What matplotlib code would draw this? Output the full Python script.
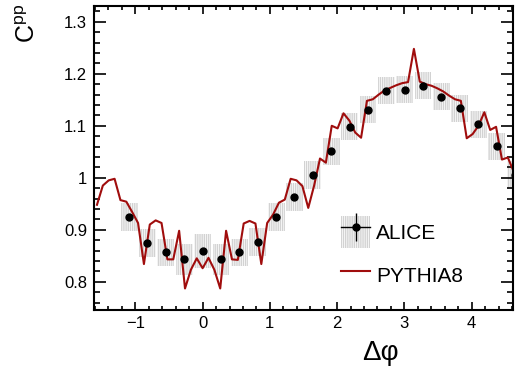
import numpy as np
import matplotlib
matplotlib.use("Agg")
import matplotlib.pyplot as plt
from matplotlib.patches import Rectangle
from matplotlib.lines import Line2D
from matplotlib.legend_handler import HandlerTuple
from matplotlib.ticker import MultipleLocator

plt.rcParams['font.family'] = ['Liberation Sans', 'DejaVu Sans']
plt.rcParams['mathtext.default'] = 'regular'
plt.rcParams['hatch.linewidth'] = 0.5

# ALICE data (bin index k, bin width 2*pi/23)
alice_k = list(range(-4, 18))
alice_y = [0.924, 0.874, 0.857, 0.843, 0.859, 0.843, 0.857, 0.876, 0.925, 0.963,
           1.005, 1.051, 1.098, 1.131, 1.167, 1.169, 1.177, 1.156, 1.134, 1.103,
           1.061, 1.006]
alice_sys = [0.027, 0.027, 0.026, 0.030, 0.032, 0.030, 0.026, 0.027, 0.027, 0.027,
             0.027, 0.026, 0.026, 0.026, 0.026, 0.026, 0.026, 0.026, 0.026, 0.026,
             0.026, 0.027]
alice_stat = [0.004] * len(alice_y)

# PYTHIA8 (bin index m, step pi/36)
pythia_m = list(range(-18, 55))
pythia_y = [0.948, 0.985, 0.995, 0.998, 0.957, 0.954, 0.934, 0.913, 0.834, 0.910,
            0.918, 0.913, 0.843, 0.843, 0.898, 0.787, 0.823, 0.845, 0.826, 0.846,
            0.823, 0.787, 0.898, 0.843, 0.842, 0.912, 0.917, 0.912, 0.834, 0.913,
            0.929, 0.952, 0.958, 0.998, 0.995, 0.984, 0.942, 0.985, 1.037, 1.029,
            1.100, 1.095, 1.124, 1.110, 1.087, 1.077, 1.148, 1.151, 1.160, 1.168,
            1.173, 1.178, 1.182, 1.184, 1.248, 1.185, 1.180, 1.177, 1.172, 1.166,
            1.158, 1.151, 1.148, 1.076, 1.084, 1.100, 1.126, 1.092, 1.098, 1.035,
            1.039, 1.012, 0.970]

alice_w = 2 * np.pi / 23
alice_x = np.array(alice_k) * alice_w
pythia_x = np.array(pythia_m) * np.pi / 36

fig = plt.figure(figsize=(5.16, 3.69), dpi=100)
ax = fig.add_axes([94/516, 1-310/369, (513-94)/516, (310-5.7)/369])

red = '#a00d0d'
box_kw = dict(facecolor='#f4f4f4', edgecolor='#c4c4c4', hatch='|' * 9, linewidth=0)
for x, y, s in zip(alice_x, alice_y, alice_sys):
    ax.add_patch(Rectangle((x - 0.125, y - s), 0.25, 2 * s, zorder=1, **box_kw))

ax.plot(pythia_x, pythia_y, color=red, lw=1.5, zorder=2)
ax.errorbar(alice_x, alice_y, yerr=alice_stat, fmt='o', color='black', ms=5,
            elinewidth=1, capsize=0, zorder=3)

ax.set_xlim(-1.615, 4.615)
ax.set_ylim(0.7456, 1.331)
ax.xaxis.set_minor_locator(MultipleLocator(0.2))
ax.yaxis.set_minor_locator(MultipleLocator(0.02))
ax.set_yticks([0.8, 0.9, 1.0, 1.1, 1.2, 1.3])
ax.set_yticklabels(['0.8', '0.9', '1', '1.1', '1.2', '1.3'])
ax.set_xticks([-1, 0, 1, 2, 3, 4])
ax.set_xticklabels(['\u22121', '0', '1', '2', '3', '4'])
ax.tick_params(axis='both', which='both', direction='in', top=True, right=True,
               labelsize=12, width=1.2, colors='black')
ax.tick_params(axis='y', which='major', length=8.5, pad=5)
ax.tick_params(axis='y', which='minor', length=4.5)
ax.tick_params(axis='x', which='major', length=5.5, pad=4)
ax.tick_params(axis='x', which='minor', length=2.8)
for sp in ax.spines.values():
    sp.set_linewidth(1.5)

fig.text(28/516, 1-4/369, '$C^{pp}$', rotation=90, ha='center', va='top', fontsize=18)
fig.text(380/516, 1-353/369, '\u0394\u03c6', ha='center', va='center', fontsize=20)

h_alice = (Rectangle((0, 0), 1, 1, **box_kw),
           Line2D([], [], color='black', marker='o', ms=5, lw=1),
           Line2D([], [], color='black', marker='|', ms=20, mew=1, ls='none'))
h_py = Line2D([], [], color=red, lw=1.5)
leg = ax.legend([h_alice, h_py], ['ALICE', 'PYTHIA8'],
                handler_map={tuple: HandlerTuple(ndivide=1, pad=0)},
                loc='upper left', bbox_to_anchor=(341/516, 1-216/369),
                bbox_transform=fig.transFigure, frameon=False, fontsize=15,
                handlelength=1.4, handleheight=2.0, labelspacing=0.55, handletextpad=0.3,
                borderpad=0, borderaxespad=0)

fig.savefig('out.png', dpi=100)
